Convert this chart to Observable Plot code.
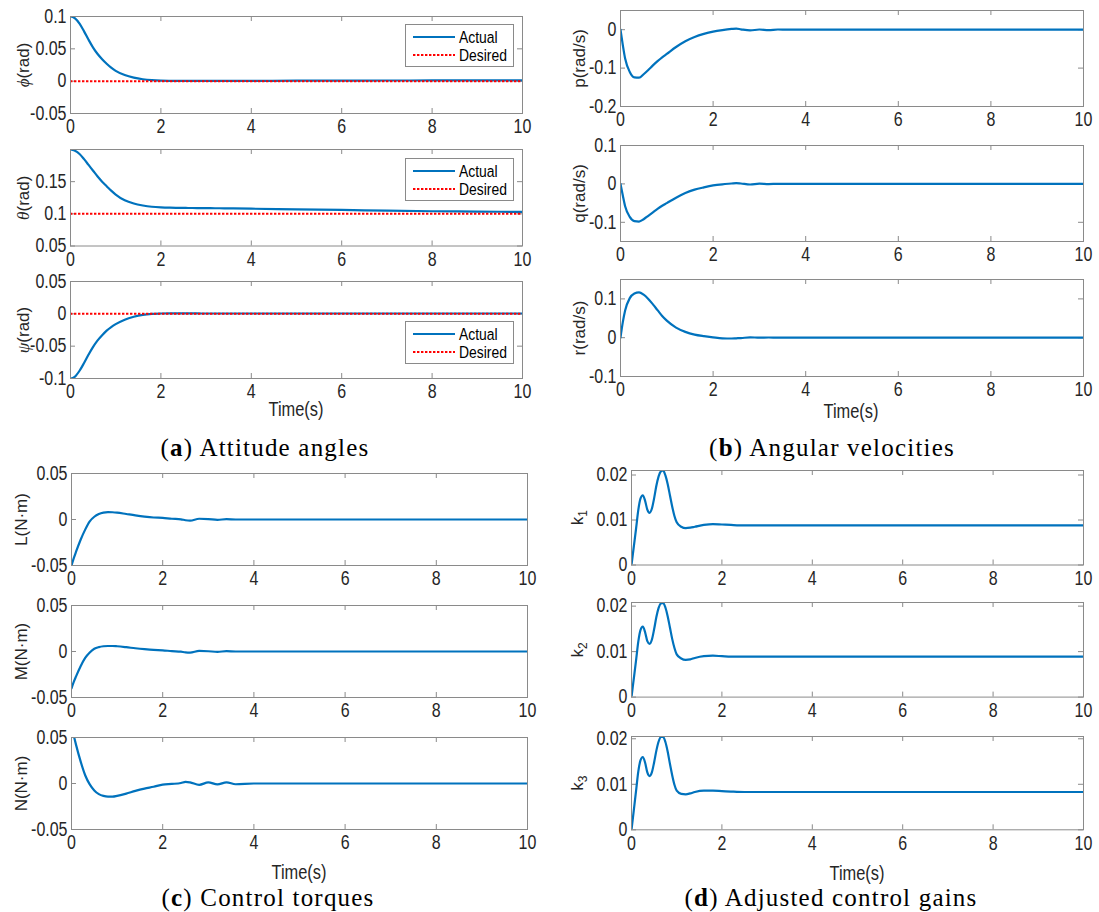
<!DOCTYPE html>
<html><head><meta charset="utf-8">
<script src="https://cdn.jsdelivr.net/npm/d3@7"></script>
<script src="https://cdn.jsdelivr.net/npm/@observablehq/plot@0.6"></script>
<style>
body{margin:0;background:#fff;}
#root{position:relative;width:1099px;height:912px;overflow:hidden;background:#fff;}
.cell{position:absolute;}
.cap{position:absolute;font-family:"Liberation Serif","Times New Roman",serif;font-size:25px;line-height:1;letter-spacing:1.2px;color:#000;white-space:nowrap;transform:translate(-50%,-50%);}
.xl{position:absolute;font-family:"Liberation Sans",Arial,sans-serif;font-size:20px;line-height:1;color:#262626;transform:translate(-50%,-50%) scaleX(0.82);white-space:nowrap;}
.leg{position:absolute;background:#fff;border:1px solid #8a8a8a;}
</style></head><body><div id="root"></div>
<script>
// ---------- data ----------
const xTicks = [0, 2, 4, 6, 8, 10];
const t = [0,0.05,0.1,0.2,0.3,0.4,0.5,0.6,0.7,0.8,0.9,1.0,1.2,1.4,1.6,1.8,2.0,2.2,2.4,2.5,2.6,2.8,3.0,3.2,3.4,3.6,4,5,6,7,8,9,10];
const phi = [0.1,0.0993,0.097,0.089,0.077,0.064,0.052,0.042,0.034,0.027,0.021,0.016,
  0.0095,0.0055,0.003,0.0015,0.0007,0.0004,0.0003,
  0.0003,0.0003,0.0003,0.0004,0.0004,0.0004,0.0005,
  0.0005,0.0007,0.0008,0.001,0.0011,0.0012,0.0013];
const theta = [0.2,0.1995,0.198,0.193,0.185,0.176,0.167,0.158,0.150,0.143,0.136,0.130,
  0.121,0.116,0.113,0.111,0.110,0.1095,0.1093,
  0.1092,0.1091,0.109,0.1088,0.1087,0.1086,0.1085,
  0.108,0.107,0.106,0.105,0.104,0.1035,0.103];
const psi = [-0.1,-0.0993,-0.097,-0.088,-0.076,-0.063,-0.051,-0.041,-0.033,-0.026,-0.0205,-0.016,
  -0.009,-0.0045,-0.0015,0,0.0005,0.0007,0.0007,
  0.0007,0.0006,0.0006,0.0005,0.0005,0.0005,0.0005,
  0.0005,0.0005,0.0005,0.0005,0.0005,0.0005,0.0005];
const pRate = [0,-0.04,-0.075,-0.11,-0.124,-0.125,-0.116,-0.105,-0.093,-0.082,-0.072,-0.063,
  -0.045,-0.030,-0.019,-0.011,-0.005,-0.001,0.002,
  0.003,0.001,-0.002,0.0005,-0.001,0.0005,0,
  0,0,0,0,0,0,0];
const qRate = [0,-0.03,-0.058,-0.086,-0.097,-0.098,-0.092,-0.083,-0.074,-0.065,-0.057,-0.05,
  -0.036,-0.024,-0.015,-0.009,-0.004,-0.001,0.001,
  0.002,0.001,-0.0015,0.0005,-0.0005,0.0003,0,
  0,0,0,0,0,0,0];
const rRate = [0,0.04,0.07,0.102,0.114,0.117,0.111,0.1,0.086,0.071,0.056,0.044,
  0.026,0.015,0.008,0.004,0.001,-0.0015,-0.002,
  -0.0015,-0.001,0.001,0,0.0005,0,0,
  0,0,0,0,0,0,0];
const torqueL = [-0.05,-0.042,-0.035,-0.022,-0.011,-0.002,0.003,0.006,0.0075,0.008,0.0079,0.0075,
  0.006,0.0045,0.0032,0.0022,0.0017,0.0008,0.0002,
  -0.0008,-0.0012,0.0008,0.0005,-0.0003,0.0003,0,
  0,0,0,0,0,0,0];
const torqueM = [-0.04,-0.033,-0.027,-0.016,-0.007,-0.001,0.003,0.0048,0.0057,0.006,0.006,0.0057,
  0.0047,0.0035,0.0025,0.0017,0.0013,0.0004,-0.0002,
  -0.001,-0.0012,0.0006,0.0003,-0.0003,0.0003,0,
  0,0,0,0,0,0,0];
const torqueN = [0.062,0.052,0.042,0.024,0.009,-0.001,-0.0075,-0.0115,-0.0135,-0.0143,-0.0143,-0.0135,
  -0.011,-0.008,-0.0055,-0.0035,-0.0012,-0.0005,0.0005,
  0.0018,0.0012,-0.0015,0.0012,-0.001,0.0012,-0.0008,
  0,0,0,0,0,0,0];
const tk = [0,0.05,0.1,0.15,0.2,0.25,0.3,0.35,0.4,0.45,0.5,0.55,0.6,0.65,0.7,0.75,0.8,0.85,0.9,0.95,1.0,
  1.1,1.2,1.3,1.4,1.6,1.8,2.0,2.2,2.5,3,4,6,8,10];
const k1 = [0,0.004,0.008,0.0122,0.0148,0.0155,0.0143,0.0123,0.0116,0.0125,0.0148,0.0176,0.0197,0.0208,0.021,0.0199,0.018,0.0155,0.013,0.0109,0.0095,
  0.0085,0.0082,0.0083,0.0085,0.0089,0.0091,0.009,0.0089,0.0088,0.0088,0.0088,0.0088,0.0088,0.0088];
const k2 = [0,0.004,0.008,0.0122,0.0148,0.0155,0.0143,0.0123,0.0117,0.0126,0.0149,0.0176,0.0196,0.0206,0.0207,0.0197,0.0178,0.0153,0.0128,0.0108,0.0094,
  0.0085,0.0082,0.0083,0.0086,0.009,0.0091,0.009,0.0089,0.0089,0.0089,0.0089,0.0089,0.0089,0.0089];
const k3 = [0,0.0042,0.0085,0.0128,0.0153,0.016,0.0148,0.0126,0.0118,0.0126,0.0148,0.0174,0.0194,0.0204,0.0204,0.0193,0.0172,0.0145,0.012,0.0099,0.0086,
  0.0079,0.0078,0.008,0.0083,0.0086,0.0086,0.0085,0.0084,0.0083,0.0083,0.0083,0.0083,0.0083,0.0083];
const desired = [0, 0.1, 0];
const yLabels = ["ϕ(rad)","θ(rad)","ψ(rad)","p(rad/s)","q(rad/s)","r(rad/s)","L(N·m)","M(N·m)","N(N·m)","k1","k2","k3"];
const yDomains = [[-0.05,0.1],[0.05,0.2],[-0.1,0.05],[-0.2,0.05],[-0.15,0.1],[-0.1,0.15],
  [-0.05,0.05],[-0.05,0.05],[-0.05,0.05],[0,0.021],[0,0.0208],[0,0.0205]];
const yTickSets = [[-0.05,0,0.05,0.1],[0.05,0.1,0.15],[-0.1,-0.05,0,0.05],[-0.2,-0.1,0],[-0.1,0,0.1],[-0.1,0,0.1],
  [-0.05,0,0.05],[-0.05,0,0.05],[-0.05,0,0.05],[0,0.01,0.02],[0,0.01,0.02],[0,0.01,0.02]];
const legendLabels = ["Actual","Desired"];
const xLabel = "Time(s)";
const captionLetters = ["a","b","c","d"];
const captionTexts = ["Attitude angles","Angular velocities","Control torques","Adjusted control gains"];

// ---------- layout ----------
const blue = "#0072BD", gray = "#8a8a8a", txt = "#262626";
const sans = "'Liberation Sans',Arial,sans-serif";
const NARROW = 0.82;
const series = [[t,phi],[t,theta],[t,psi],[t,pRate],[t,qRate],[t,rRate],[t,torqueL],[t,torqueM],[t,torqueN],[tk,k1],[tk,k2],[tk,k3]];
const frames = [[70,16,452,97],[70,149,452,96.5],[70,281,452,97],
  [620,10,463,96],[620,145,463,96],[620,279,463,97],
  [71,473,456,92],[71,605,456,92],[71,737,456,92],
  [631,469.5,452,94.5],[631,602.4,452,94.6],[631,735.7,452,93.3]];
const labelDx = [-47,-47,-47,-41,-41,-41,-50,-50,-50,-54,-54,-54];
const legendTops = [24,158,321];
const root = document.getElementById("root");

function narrowText(svg) {
  svg.querySelectorAll('g[aria-label$="tick label"] text, g.tick text').forEach(el => {
    const tr = el.getAttribute("transform") || "";
    const x = el.getAttribute("x");
    if (x !== null) { el.setAttribute("x", 0); el.setAttribute("transform", `${tr} translate(${x},0) scale(${NARROW},1)`); }
    else el.setAttribute("transform", `${tr} scale(${NARROW},1)`);
  });
}

frames.forEach((fr, i) => {
  const [L,T,W,H] = fr;
  const ml=64, mr=16, mt=10, mb=32;
  const [tt, yy] = series[i];
  const data = tt.map((x,j)=>({t:x, v:yy[j]}));
  const ticks = yTickSets[i];
  const marks = [
    Plot.ruleY(ticks, {stroke: gray, insetRight: W-5}),
    Plot.ruleY(ticks, {stroke: gray, insetLeft: W-5}),
    Plot.ruleX(xTicks, {stroke: gray, insetTop: H-5}),
    Plot.ruleX(xTicks, {stroke: gray, insetBottom: H-5}),
    Plot.line(data, {x:"t", y:"v", stroke: blue, strokeWidth: 2.2, curve: "monotone-x", clip: true})
  ];
  if (i < 3) marks.push(Plot.ruleY([desired[i]], {stroke:"#ff0000", strokeWidth:2, strokeDasharray:"2.4,1.6"}));
  marks.push(Plot.frame({stroke: gray, strokeWidth: 1}));
  marks.push(Plot.text([yLabels[i]], {text: d=>d, frameAnchor:"left", textAnchor:"middle", lineAnchor:"middle", dx: labelDx[i], rotate:-90, fontSize:17, fill: txt, fontFamily: sans}));
  const svg = Plot.plot({
    width: W+ml+mr, height: H+mt+mb, marginLeft: ml, marginRight: mr, marginTop: mt, marginBottom: mb,
    x: {domain:[0,10], ticks: xTicks, tickSize:0, tickPadding:6, tickFormat: d=>String(d), label:null},
    y: {domain: yDomains[i], ticks: ticks, tickSize:0, tickPadding:4, tickFormat: d=>String(d), label:null},
    style: {background:"transparent", overflow:"visible", fontFamily: sans, fontSize:"19.5px", color: txt},
    marks
  });
  narrowText(svg);
  // italic greek letter / subscript in y labels
  svg.querySelectorAll('g[aria-label="text"] text').forEach(el => {
    const s = yLabels[i];
    if (/^[ϕθψ]/.test(s)) {
      el.textContent = "";
      const a = document.createElementNS("http://www.w3.org/2000/svg","tspan");
      a.setAttribute("font-style","italic"); a.setAttribute("font-family","'Liberation Serif',serif"); a.textContent = s[0];
      const b = document.createElementNS("http://www.w3.org/2000/svg","tspan"); b.textContent = s.slice(1);
      el.appendChild(a); el.appendChild(b);
    } else if (/^k\d$/.test(s)) {
      el.textContent = "";
      const a = document.createElementNS("http://www.w3.org/2000/svg","tspan"); a.textContent = "k";
      const b = document.createElementNS("http://www.w3.org/2000/svg","tspan");
      b.setAttribute("font-size","12"); b.setAttribute("dy","0.35em"); b.textContent = s[1];
      el.appendChild(a); el.appendChild(b);
    }
  });
  const div = document.createElement("div");
  div.className = "cell";
  div.style.left = (L-ml)+"px"; div.style.top = (T-mt)+"px";
  div.appendChild(svg);
  root.appendChild(div);
  // legends for attitude panels
  if (i < 3) {
    const lg = document.createElement("div");
    lg.className = "leg";
    lg.style.left = "405px"; lg.style.top = legendTops[i]+"px";
    lg.innerHTML = `<svg width="107" height="41" style="display:block">
      <line x1="7" x2="49" y1="12" y2="12" stroke="${blue}" stroke-width="2.2"/>
      <text transform="translate(53,12) scale(${NARROW},1)" dy="0.36em" font-family="${sans}" font-size="17" fill="#000">${legendLabels[0]}</text>
      <line x1="7" x2="49" y1="30" y2="30" stroke="#ff0000" stroke-width="2" stroke-dasharray="2.4,1.6"/>
      <text transform="translate(53,30) scale(${NARROW},1)" dy="0.36em" font-family="${sans}" font-size="17" fill="#000">${legendLabels[1]}</text></svg>`;
    root.appendChild(lg);
  }
});

// x-axis titles under bottom panels
[[296,409],[851,411],[299,872],[857,873]].forEach(([x,y]) => {
  const d = document.createElement("div"); d.className = "xl";
  d.style.left = x+"px"; d.style.top = y+"px"; d.textContent = xLabel; root.appendChild(d);
});
// captions
[[265,447],[832,447],[268,897],[831,897]].forEach(([x,y],i) => {
  const d = document.createElement("div"); d.className = "cap";
  d.style.left = x+"px"; d.style.top = y+"px";
  d.innerHTML = `(<b>${captionLetters[i]}</b>) ${captionTexts[i]}`;
  root.appendChild(d);
});
</script></body></html>
